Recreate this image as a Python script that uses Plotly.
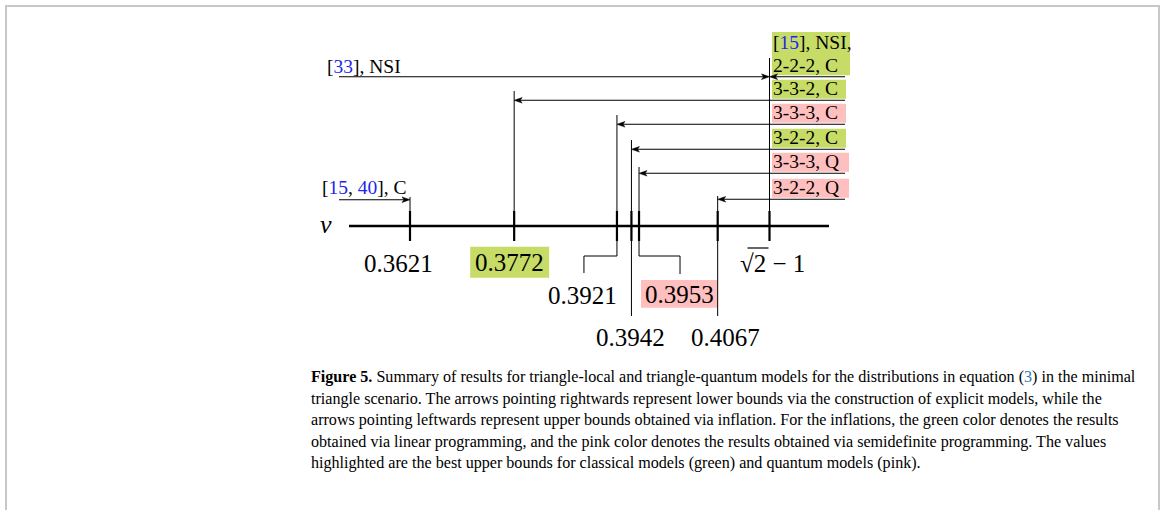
import math
import plotly.graph_objects as go

# ---------------- data ----------------
SQRT2_M1 = math.sqrt(2) - 1
TICK_VALUES = [0.3621, 0.3772, 0.3921, 0.3942, 0.3953, 0.4067, SQRT2_M1]
TICK_LABELS = ["0.3621", "0.3772", "0.3921", "0.3942", "0.3953", "0.4067", "√2 − 1"]

BLUE = "#2424f0"
def ref(*nums):
    return "[" + ", ".join(f'<span style="color:{BLUE}">{n}</span>' for n in nums) + "]"

# lower bounds (rightward arrows, explicit models)
LOWER_LABELS = [ref(33) + ", NSI", ref(15, 40) + ", C"]
LOWER_VALUES = [SQRT2_M1, 0.3621]

# upper bounds (leftward arrows, inflation)
UPPER_LABELS = [[ref(15) + ", NSI,", "2-2-2, C"], ["3-3-2, C"], ["3-3-3, C"],
                ["3-2-2, C"], ["3-3-3, Q"], ["3-2-2, Q"]]
UPPER_VALUES = [SQRT2_M1, 0.3772, 0.3921, 0.3942, 0.3953, 0.4067]
UPPER_METHOD = ["LP", "LP", "SDP", "LP", "SDP", "SDP"]

BEST_CLASSICAL = 0.3772
BEST_QUANTUM = 0.3953

CAPTION = [
    "<b>Figure 5.</b> Summary of results for triangle-local and triangle-quantum models for the distributions in equation (<span style=\"color:#2a7ab8\">3</span>) in the minimal",
    "triangle scenario. The arrows pointing rightwards represent lower bounds via the construction of explicit models, while the",
    "arrows pointing leftwards represent upper bounds obtained via inflation. For the inflations, the green color denotes the results",
    "obtained via linear programming, and the pink color denotes the results obtained via semidefinite programming. The values",
    "highlighted are the best upper bounds for classical models (green) and quantum models (pink).",
]

# ---------------- style / layout ----------------
W, H = 1165, 510
GREEN = "#c6dc67"
PINK = "#ffbfbf"
COLORS = {"LP": GREEN, "SDP": PINK}
FONT = "Liberation Serif"

PX0, PX1 = 410.0, 769.5                      # pixel positions of 0.3621 and sqrt(2)-1
K = (PX1 - PX0) / (SQRT2_M1 - 0.3621)        # pixels per unit of v
def X(px):
    return 0.3621 + (px - PX0) / K
def off(v, dpx):
    return v + dpx / K

AXIS_Y = 226
ROW_Y = [76.7, 100.3, 124.3, 149.3, 173.3, 199.3]
VTOP = [58, 91, 115, 140, 167, 196]
BOX_RIGHT = [850, 846, 846, 846, 849, 849]
LOWER_ROW_Y = [76.7, 199.7]
LOWER_VTOP = [58, 197]
LOWER_TEXT_X = [325, 320]
LOWER_TEXT_Y = [66, 187]
TAIL_LEFT, TAIL_RIGHT = 339, 845

TICK_LABEL_DX = [-11.5, -4.5, -34, -1, 40, 8, 3]
TICK_LABEL_Y = [263, 262, 295, 337.5, 294, 337.5, 263]
LEADERS = [None, None, ("hook", -33, 256, 273), ("down", 316),
           ("hook", 41, 256, 274), ("down", 316), None]

shapes, annotations = [], []

def line(x0, y0, x1, y1, w=1.0, color="black"):
    shapes.append(dict(type="line", xref="x", yref="y", x0=x0, y0=y0, x1=x1, y1=y1,
                       line=dict(color=color, width=w), layer="above"))

def rect(x0, y0, x1, y1, color):
    shapes.append(dict(type="rect", xref="x", yref="y", x0=x0, y0=y0, x1=x1, y1=y1,
                       fillcolor=color, line=dict(width=0), layer="below"))

def head(v, y, d):
    L, h = 8.0 / K, 2.8
    p = (f"M{v},{y} L{v - d*L},{y - h} L{v - d*L*0.75},{y} L{v - d*L},{y + h} Z")
    shapes.append(dict(type="path", xref="x", yref="y", path=p, fillcolor="black",
                       line=dict(color="black", width=0.5), layer="above"))

def text(x, y, s, size=19.5, xanchor="left", color="black"):
    annotations.append(dict(x=x, y=y, xref="x", yref="y", text=s, showarrow=False,
                            xanchor=xanchor, yanchor="middle",
                            font=dict(family=FONT, size=size, color=color)))

# border
shapes.append(dict(type="rect", xref="x", yref="y", x0=X(6), y0=6, x1=X(1159), y1=H + 10,
                   line=dict(color="#c8c8c8", width=2), fillcolor="rgba(0,0,0,0)"))

# axis
line(X(349), AXIS_Y, X(829), AXIS_Y, w=2.4)
for v in TICK_VALUES:
    line(v, AXIS_Y - 15, v, AXIS_Y + 15, w=2.2)
text(X(318), 224, "<i>v</i>", size=26)

# upper bounds
for i, (lab, v, m) in enumerate(zip(UPPER_LABELS, UPPER_VALUES, UPPER_METHOD)):
    y = ROW_Y[i]
    top = y - 20.5 if len(lab) == 1 else 32
    rect(off(SQRT2_M1, 2.5), top, X(BOX_RIGHT[i]), y - 1.5, COLORS[m])
    if len(lab) == 1:
        text(off(SQRT2_M1, 1.5), y - 11.5, lab[0])
    else:
        text(off(SQRT2_M1, 1.5), 42, lab[0])
        text(off(SQRT2_M1, 1.5), 65.5, lab[1])
    line(X(TAIL_RIGHT), y, off(v, 4), y, w=1.1)
    head(v, y, -1)
    line(v, VTOP[i], v, AXIS_Y, w=1.0)

# lower bounds
for i, (lab, v) in enumerate(zip(LOWER_LABELS, LOWER_VALUES)):
    y = LOWER_ROW_Y[i]
    text(X(LOWER_TEXT_X[i]), LOWER_TEXT_Y[i], lab)
    line(X(TAIL_LEFT), y, off(v, -4), y, w=1.1)
    head(v, y, +1)
    line(v, LOWER_VTOP[i], v, AXIS_Y, w=1.0)

# tick labels + leaders + highlight boxes
for v, lab, dx, ty, ld in zip(TICK_VALUES, TICK_LABELS, TICK_LABEL_DX, TICK_LABEL_Y, LEADERS):
    if ld is not None:
        if ld[0] == "hook":
            _, hx, y1, y2 = ld
            line(v, AXIS_Y, v, y1)
            line(v, y1, off(v, hx), y1)
            line(off(v, hx), y1, off(v, hx), y2)
        else:
            line(v, AXIS_Y, v, ld[1])
    if v == BEST_CLASSICAL:
        rect(off(v, -44), 246.7, off(v, 35), 277.7, GREEN)
    if v == BEST_QUANTUM:
        rect(off(v, 2), 280, off(v, 78), 307.7, PINK)
    text(off(v, dx), ty, lab, size=25, xanchor="center")
# overline of the square root
line(off(SQRT2_M1, -22), 248.0, off(SQRT2_M1, -1), 248.0, w=1.2)

# caption
for j, s in enumerate(CAPTION):
    text(X(309), 377 + 21.5 * j, s, size=16.1)

fig = go.Figure()
fig.update_layout(
    width=W, height=H, autosize=False,
    margin=dict(l=0, r=0, t=0, b=0),
    paper_bgcolor="white", plot_bgcolor="white",
    xaxis=dict(range=[X(0), X(W)], visible=False, fixedrange=True),
    yaxis=dict(range=[H, 0], visible=False, fixedrange=True),
    shapes=shapes, annotations=annotations, showlegend=False,
)
fig.write_html("out.html", config={"displayModeBar": False},
               post_script="document.body.style.margin='0';document.body.style.overflow='hidden';")
